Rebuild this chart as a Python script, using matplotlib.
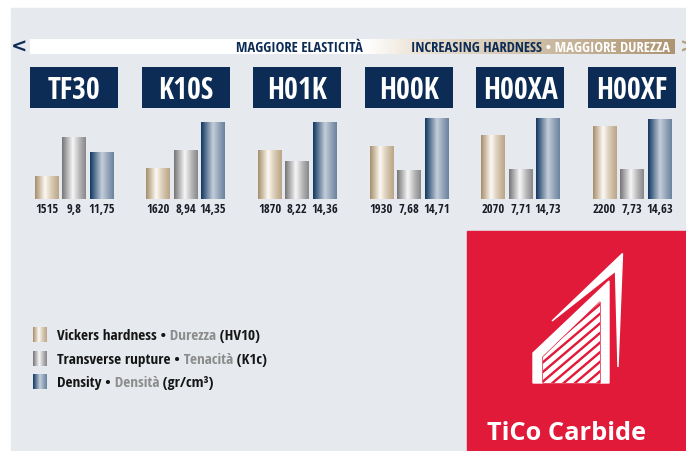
import numpy as np
import matplotlib.pyplot as plt
from matplotlib import font_manager
from matplotlib.colors import LinearSegmentedColormap
from matplotlib.patches import Rectangle, Polygon

# dati
grades = ["TF30", "K10S", "H01K", "H00K", "H00XA", "H00XF"]
hardness = [1515, 1620, 1870, 1930, 2070, 2200]   # HV10
rupture = [9.8, 8.94, 8.22, 7.68, 7.71, 7.73]      # K1c
density = [11.75, 14.35, 14.36, 14.71, 14.73, 14.63]  # gr/cm3

legend_en = ["Vickers hardness \u2022", "Transverse rupture \u2022", "Density \u2022"]
legend_it = [" Durezza", " Tenacit\u00e0", " Densit\u00e0"]
legend_unit = [" (HV10)", " (K1c)", " (gr/cm\u00b3)"]

W, H = 686, 452
NAVY = "#0c2c56"
BG = "#e6e9ee"
RED = "#e21a3a"
TAN = "#b39c78"

# font condensato se c'e'
installed = {f.name for f in font_manager.fontManager.ttflist}
NARROW = [f for f in ["Open Sans Condensed", "IBM Plex Sans Condensed"] if f in installed] + ["DejaVu Sans"]

cm_tan = LinearSegmentedColormap.from_list("tan", [(0, "#a88f6c"), (0.42, "#fcf9f3"), (0.7, "#d8cab4"), (1, "#bca587")])
cm_gray = LinearSegmentedColormap.from_list("grey", [(0, "#767678"), (0.45, "#f7f7f7"), (0.75, "#b4b4b6"), (1, "#88888a")])
cm_navy = LinearSegmentedColormap.from_list("navy", [(0, "#123863"), (0.5, "#c4ceda"), (0.75, "#95a6ba"), (1, "#6b829e")])
grad = np.linspace(0, 1, 64)[None, :]

fig = plt.figure(figsize=(W / 100, H / 100), dpi=100)
fig.patch.set_facecolor("white")

# livello decorativo in pixel
deco = fig.add_axes([0, 0, 1, 1], zorder=0)
deco.axis("off")
deco.add_patch(Rectangle((11, 9), W - 11, H - 9, color=BG))

# banda superiore
cm_band = LinearSegmentedColormap.from_list("band", [(0, "white"), (0.52, "white"), (0.6, "#ece3d6"), (1, "#ad9572")])
deco.imshow(np.linspace(0, 1, 256)[None, :], extent=(30, 675, 55, 40), cmap=cm_band, aspect="auto", zorder=2)
deco.text(19.5, 47, "<", color=NAVY, fontsize=14, fontweight="bold", ha="center", va="center")
deco.text(680, 47, ">", color=TAN, fontsize=14, fontweight="bold", ha="left", va="center")
deco.text(363, 52.5, "MAGGIORE ELASTICIT\u00c0", color=NAVY, fontsize=10.5, fontweight="bold",
          family=NARROW, ha="right", va="baseline", zorder=3)
t = deco.text(411, 52.5, "INCREASING HARDNESS", color=NAVY, fontsize=10.5, fontweight="bold",
              family=NARROW, ha="left", va="baseline", zorder=3)
deco.annotate(" \u2022 MAGGIORE DUREZZA", xy=(1, 0), xycoords=t, color="white", fontsize=10.5,
              fontweight="bold", family=NARROW, ha="left", va="bottom", zorder=3)

# legenda
for i, cm in enumerate([cm_tan, cm_gray, cm_navy]):
    yb = 340.5 + i * 23.3
    deco.imshow(grad, extent=(33, 47, yb + 3, yb - 12), cmap=cm, aspect="auto", zorder=2)
    t1 = deco.text(57, yb, legend_en[i], color="#151515", fontsize=11, fontweight="bold",
                   family=NARROW, ha="left", va="baseline")
    t2 = deco.annotate(legend_it[i], xy=(1, 0), xycoords=t1, color="#8c8c8c", fontsize=11,
                       fontweight="bold", family=NARROW, ha="left", va="bottom")
    deco.annotate(legend_unit[i], xy=(1, 0), xycoords=t2, color="#151515", fontsize=11,
                  fontweight="bold", family=NARROW, ha="left", va="bottom")

# logo TiCo
deco.add_patch(Rectangle((467, 232), W - 467, H - 232, color=RED))
deco.add_patch(Polygon([(533, 384), (533, 354), (609, 282), (609, 384)], closed=True, color="white"))
inner = Polygon([(543, 384), (543, 358), (600, 303), (600, 384)], closed=True, color=RED)
deco.add_patch(inner)
for y0 in np.arange(300, 440, 9.6):
    st = Polygon([(530, y0), (615, y0 - 0.85 * 85), (615, y0 - 0.85 * 85 + 4.6), (530, y0 + 4.6)],
                 closed=True, color="white")
    deco.add_patch(st)
    st.set_clip_path(inner)
deco.add_patch(Polygon([(552, 322), (622.5, 254.5), (618, 368), (615.5, 272)], closed=True, color="white"))
deco.text(487, 440, "TiCo Carbide", color="white", fontsize=18.3, fontweight="bold",
          family=["Open Sans", "DejaVu Sans"], ha="left", va="baseline")
deco.set_xlim(0, W)
deco.set_ylim(H, 0)

# box dei gradi
ux = 111.6
x0_px = 74 - 0.45 * ux
x = np.arange(len(grades))
axh = fig.add_axes([x0_px / W, (H - 109) / H, 5.9 * ux / W, 41 / H], zorder=2)
axh.bar(x, 1, width=0.79, color=NAVY)
for xi, g in zip(x, grades):
    axh.text(xi, 0.25, g, color="white", fontsize=21.5, fontweight="bold", family=NARROW,
             ha="center", va="baseline")
axh.set_xlim(-0.45, 5.45)
axh.set_ylim(0, 1)
axh.axis("off")

# barre: ogni serie con la sua scala
series = [
    (hardness, cm_tan, -0.2465, (1200, 2429.5)),
    (rupture, cm_gray, 0.0, (5.784, 11.598)),
    (density, cm_navy, 0.2465, (7.651, 15.498)),
]
rect = [x0_px / W, (H - 200) / H, 5.9 * ux / W, 90 / H]
for vals, cm, off, lim in series:
    ax = fig.add_axes(rect, zorder=2)
    ax.axis("off")
    bars = ax.bar(x + off, vals, width=0.21, color="none")
    for p in bars:
        im = ax.imshow(grad, extent=(p.get_x(), p.get_x() + p.get_width(), lim[0], p.get_height()),
                       cmap=cm, aspect="auto")
        im.set_clip_path(p)
    for xi, v in zip(x + off, vals):
        ax.annotate(f"{v:g}".replace(".", ","), (xi, lim[0]), xytext=(0, -10), textcoords="offset pixels",
                    ha="center", va="center", fontsize=9, fontweight="bold", family=NARROW,
                    color="#1b1b27", annotation_clip=False)
    ax.set_xlim(-0.45, 5.45)
    ax.set_ylim(*lim)

fig.savefig("out.png", dpi=100)
